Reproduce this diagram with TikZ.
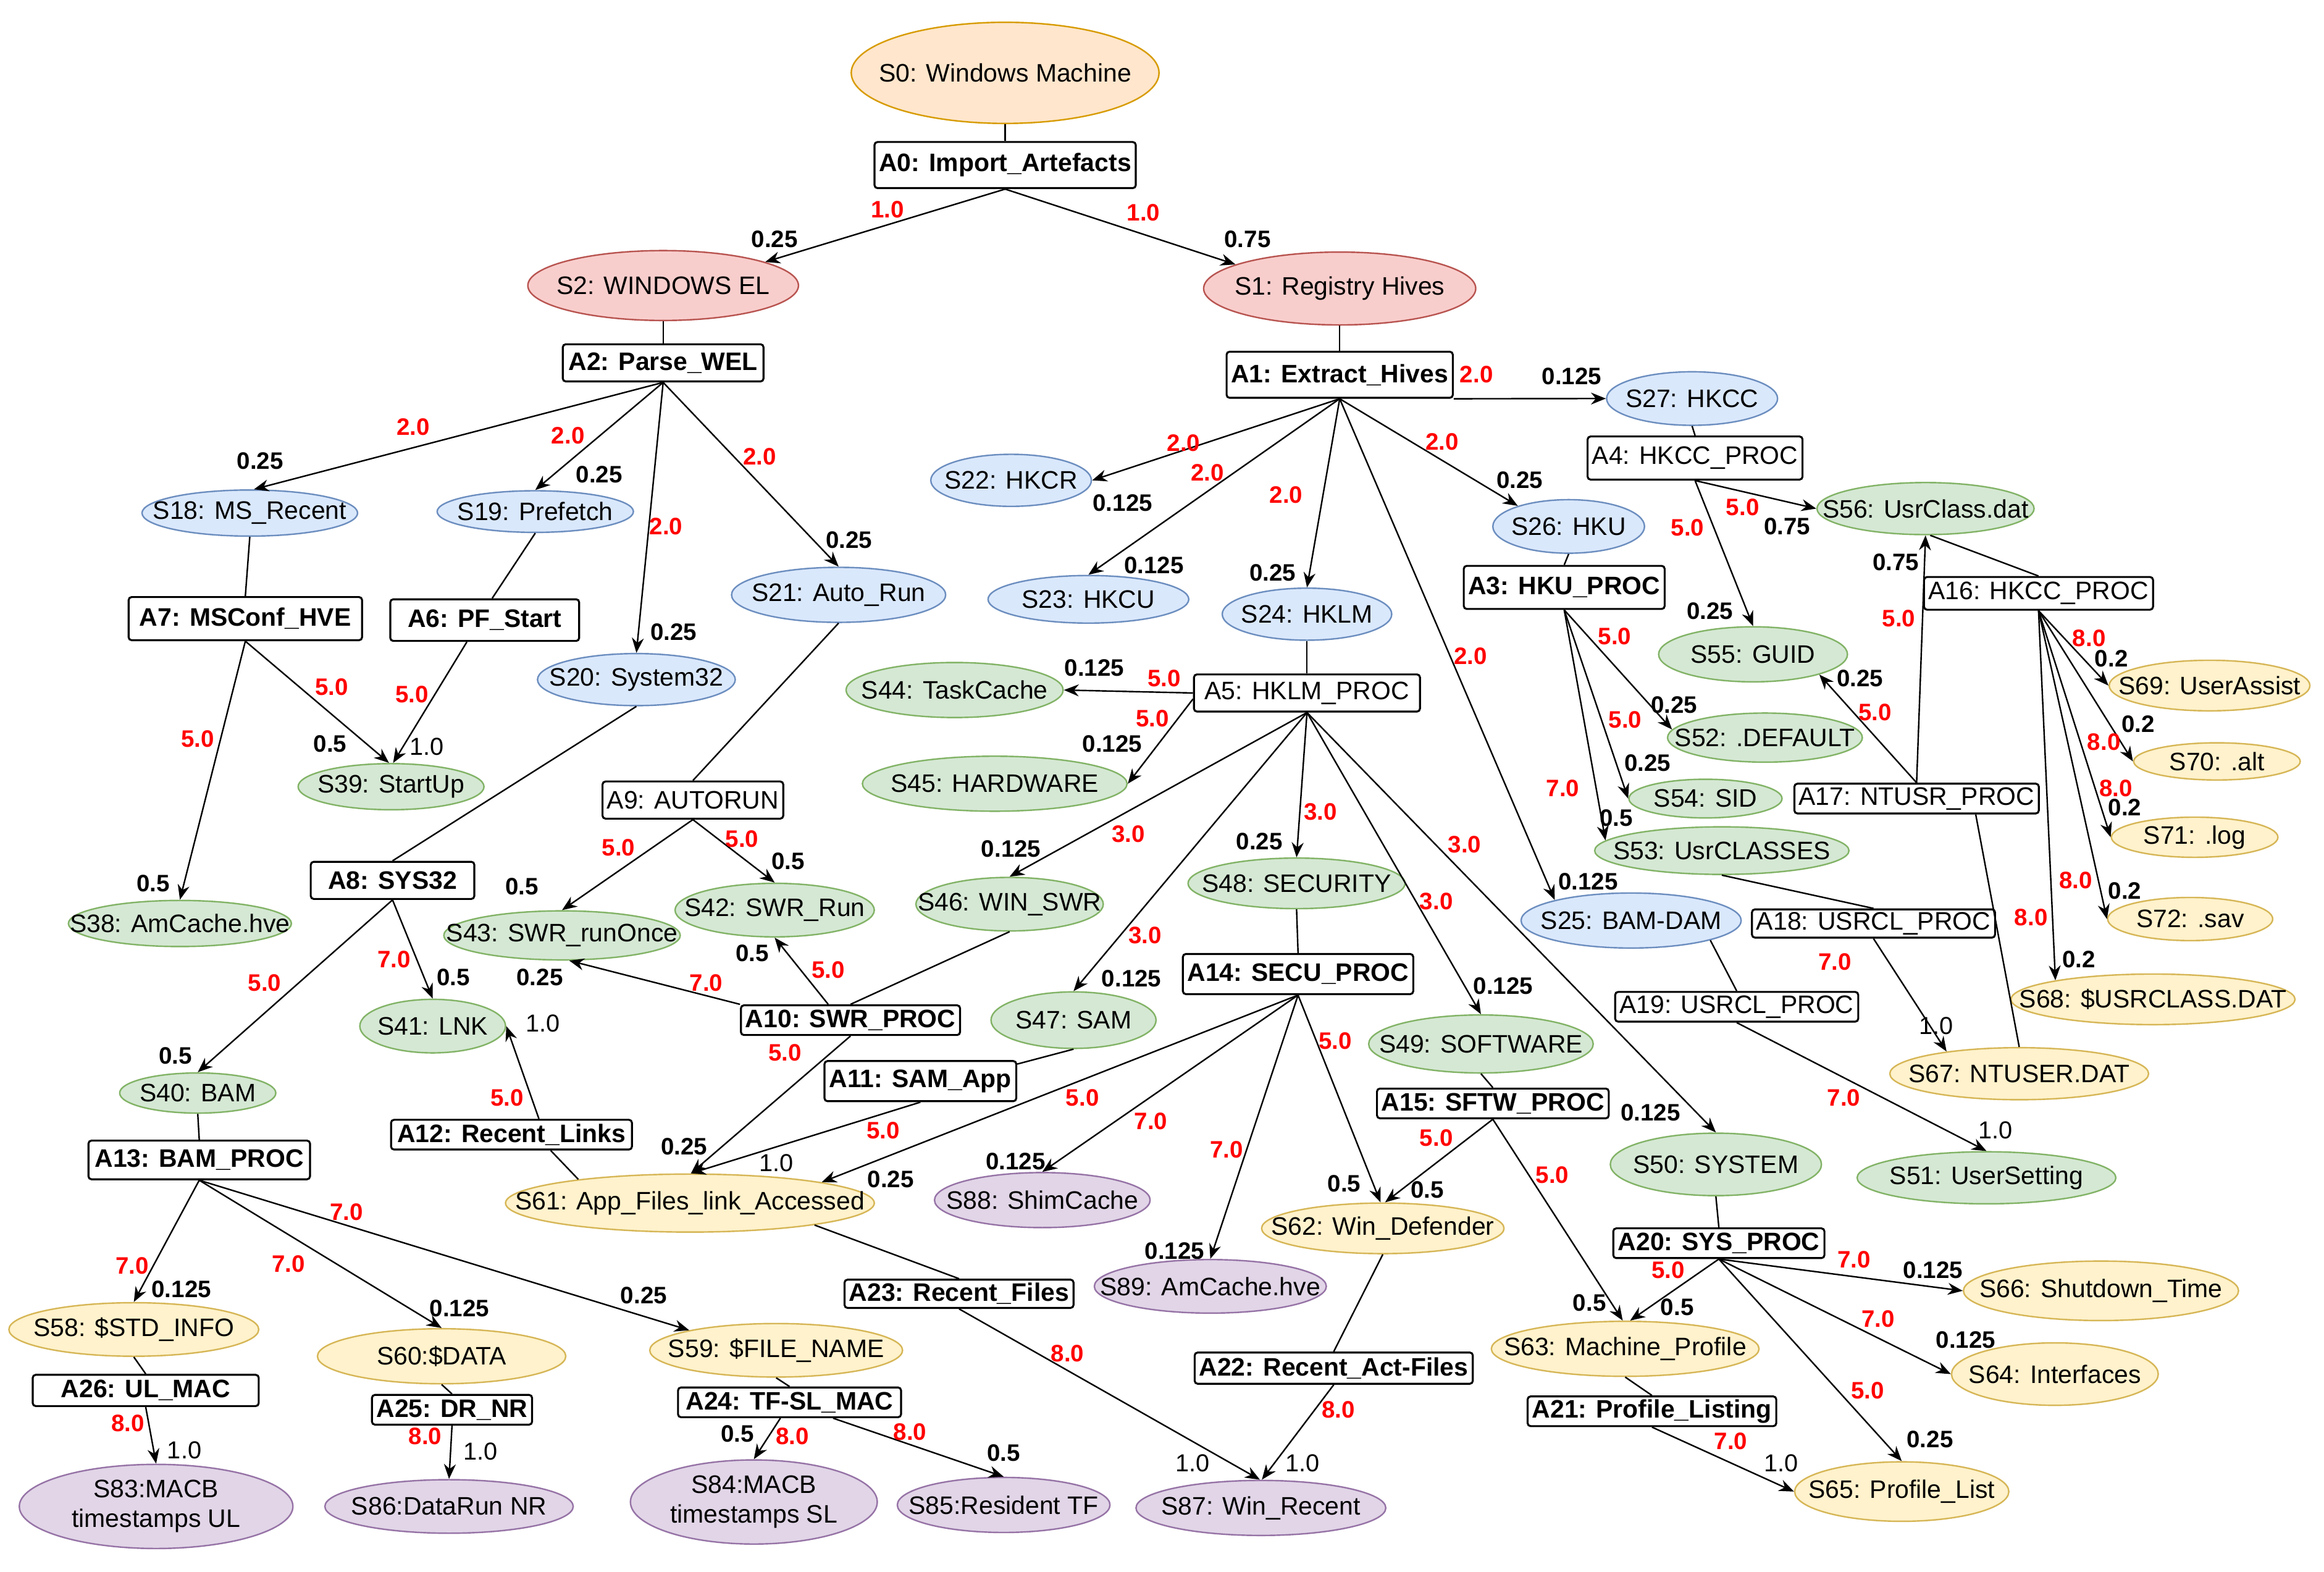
\documentclass[tikz,border=0pt]{standalone}
\usepackage{fontspec}
\setmainfont{Liberation Sans}
\usetikzlibrary{shapes.geometric,arrows.meta,calc}
\definecolor{oF}{HTML}{FFE6CC}\definecolor{oD}{HTML}{D79B00}
\definecolor{rF}{HTML}{F8CECC}\definecolor{rD}{HTML}{B85450}
\definecolor{bF}{HTML}{DAE8FC}\definecolor{bD}{HTML}{6C8EBF}
\definecolor{gF}{HTML}{D5E8D4}\definecolor{gD}{HTML}{82B366}
\definecolor{yF}{HTML}{FFF2CC}\definecolor{yD}{HTML}{D6B656}
\definecolor{pF}{HTML}{E1D5E7}\definecolor{pD}{HTML}{9673A6}
\newcommand{\ZW}[1]{\makebox[0pt]{#1}}
\newcommand{\EN}[7]{\node[st#6, minimum width=#4pt, minimum height=#5pt] (#1) at (#2,#3) {\ZW{#7}};}
\newcommand{\BX}[7]{\node[#6, minimum width=#4pt, minimum height=#5pt] (#1) at (#2,#3) {#7};}
\tikzset{
 stbase/.style={ellipse, line width=1pt, inner sep=0pt, font=\fontsize{17}{20}\selectfont},
 stO/.style={stbase, draw=oD, fill=oF},
 stR/.style={stbase, draw=rD, fill=rF},
 stB/.style={stbase, draw=bD, fill=bF},
 stG/.style={stbase, draw=gD, fill=gF},
 stY/.style={stbase, draw=yD, fill=yF},
 stP/.style={stbase, draw=pD, fill=pF},
 boxb/.style={rectangle, draw=black, fill=white, rounded corners=2pt, line width=1.3pt, inner xsep=3pt, inner ysep=0pt, font=\fontsize{17}{20}\selectfont\bfseries},
 boxn/.style={boxb, font=\fontsize{17}{20}\selectfont},
 lw/.style={text=red, inner sep=0pt, font=\fontsize{16}{18}\selectfont\bfseries},
 lp/.style={text=black, inner sep=0pt, font=\fontsize{16}{18}\selectfont\bfseries},
 lq/.style={text=black, inner sep=0pt, font=\fontsize{16.5}{18}\selectfont},
 arw/.style={draw=black, line width=1pt, -{Stealth[length=10pt,width=8pt]}},
 lnk/.style={draw=black, line width=1pt},
}
\begin{document}
\begin{tikzpicture}[x=1pt,y=-1pt]
\useasboundingbox (0,0) rectangle (1563,1057);
% ---------- ellipses ----------
\EN{S0}{676}{49}{207}{68}{O}{S0: Windows Machine}
\EN{S2}{446}{192}{182}{47}{R}{S2: WINDOWS EL}
\EN{S1}{901}{194}{183}{49}{R}{S1: Registry Hives}
\EN{S27}{1138}{268}{115}{36}{B}{S27: HKCC}
\EN{S18}{168}{345}{145}{31}{B}{S18: MS\_Recent}
\EN{S19}{360}{344}{132}{28}{B}{S19: Prefetch}
\EN{S20}{428}{457}{133}{35}{B}{S20: System32}
\EN{S21}{564}{400}{144}{37}{B}{S21: Auto\_Run}
\EN{S22}{680}{323}{108}{35}{B}{S22: HKCR}
\EN{S23}{732}{403}{135}{32}{B}{S23: HKCU}
\EN{S24}{879}{413}{114}{35}{B}{S24: HKLM}
\EN{S26}{1055}{354}{102}{36}{B}{S26: HKU}
\EN{S25}{1097}{619}{148}{37}{B}{S25: BAM-DAM}
\EN{S56}{1295}{342}{146}{35}{G}{S56: UsrClass.dat}
\EN{S55}{1179}{440}{127}{37}{G}{S55: GUID}
\EN{S52}{1187}{496}{131}{33}{G}{S52: .DEFAULT}
\EN{S54}{1147}{537}{103}{26}{G}{S54: SID}
\EN{S53}{1158}{572}{171}{32}{G}{S53: UsrCLASSES}
\EN{S39}{263}{529}{125}{31}{G}{S39: StartUp}
\EN{S38}{121}{621}{150}{31}{G}{S38: AmCache.hve}
\EN{S43}{378}{629}{159}{33}{G}{S43: SWR\_runOnce}
\EN{S42}{521}{612}{134}{36}{G}{S42: SWR\_Run}
\EN{S41}{291}{690}{98}{36}{G}{S41: LNK}
\EN{S40}{133}{735}{105}{27}{G}{S40: BAM}
\EN{S44}{642}{464}{146}{37}{G}{S44: TaskCache}
\EN{S45}{669}{527}{178}{37}{G}{S45: HARDWARE}
\EN{S46}{679}{608}{126}{36}{G}{S46: WIN\_SWR}
\EN{S47}{722}{686}{111}{38}{G}{S47: SAM}
\EN{S48}{872}{594}{146}{34}{G}{S48: SECURITY}
\EN{S49}{996}{702}{151}{39}{G}{S49: SOFTWARE}
\EN{S50}{1154}{783}{142}{42}{G}{S50: SYSTEM}
\EN{S51}{1336}{792}{174}{35}{G}{S51: UserSetting}
\EN{S69}{1486}{461}{135}{34}{Y}{S69: UserAssist}
\EN{S70}{1491}{512}{112}{25}{Y}{S70: .alt}
\EN{S71}{1476}{563}{112}{27}{Y}{S71: .log}
\EN{S72}{1473}{618}{111}{29}{Y}{S72: .sav}
\EN{S68}{1448}{672}{191}{34}{Y}{S68: \$USRCLASS.DAT}
\EN{S67}{1358}{722}{174}{35}{Y}{S67: NTUSER.DAT}
\EN{S61}{464}{809}{248}{39}{Y}{S61: App\_Files\_link\_Accessed}
\EN{S62}{930}{826}{163}{34}{Y}{S62: Win\_Defender}
\EN{S58}{90}{894}{168}{36}{Y}{S58: \$STD\_INFO}
\EN{S60}{297}{912}{167}{37}{Y}{S60:\$DATA}
\EN{S59}{522}{908}{170}{36}{Y}{S59: \$FILE\_NAME}
\EN{S63}{1093}{907}{180}{37}{Y}{S63: Machine\_Profile}
\EN{S66}{1413}{868}{185}{40}{Y}{S66: Shutdown\_Time}
\EN{S64}{1382}{924}{139}{42}{Y}{S64: Interfaces}
\EN{S65}{1279}{1003}{144}{40}{Y}{S65: Profile\_List}
\EN{S88}{701}{807}{145}{37}{P}{S88: ShimCache}
\EN{S89}{814}{865}{156}{36}{P}{S89: AmCache.hve}
\EN{S83}{105}{1013}{184}{54}{P}{\begin{tabular}{@{}c@{}}S83:MACB\\timestamps UL\end{tabular}}
\EN{S86}{302}{1013}{167}{36}{P}{S86:DataRun NR}
\EN{S84}{507}{1010}{166}{52}{P}{\begin{tabular}{@{}c@{}}S84:MACB\\timestamps SL\end{tabular}}
\EN{S85}{675}{1012}{143}{37}{P}{S85:Resident TF}
\EN{S87}{848}{1014}{168}{37}{P}{S87: Win\_Recent}
% ---------- boxes ----------
\BX{A0}{676}{111}{174}{31}{boxb}{A0: Import\_Artefacts}
\BX{A2}{446}{244}{135}{25}{boxb}{A2: Parse\_WEL}
\BX{A1}{901}{252}{151}{31}{boxb}{A1: Extract\_Hives}
\BX{A4}{1140}{308}{142}{29}{boxn}{A4: HKCC\_PROC}
\BX{A7}{165}{416}{157}{29}{boxb}{A7: MSConf\_HVE}
\BX{A6}{326}{417}{127}{28}{boxb}{A6: PF\_Start}
\BX{A3}{1052}{395}{134}{29}{boxb}{A3: HKU\_PROC}
\BX{A16}{1371}{399}{143}{22}{boxn}{A16: HKCC\_PROC}
\BX{A5}{879}{466}{152}{25}{boxn}{A5: HKLM\_PROC}
\BX{A9}{466}{538}{120}{25}{boxn}{A9: AUTORUN}
\BX{A17}{1289}{537}{151}{20}{boxn}{A17: NTUSR\_PROC}
\BX{A8}{264}{592}{110}{25}{boxb}{A8: SYS32}
\BX{A18}{1260}{621}{151}{19}{boxn}{A18: USRCL\_PROC}
\BX{A14}{873}{655}{152}{27}{boxb}{A14: SECU\_PROC}
\BX{A19}{1168}{677}{152}{20}{boxn}{A19: USRCL\_PROC}
\BX{A10}{572}{686}{143}{20}{boxb}{A10: SWR\_PROC}
\BX{A11}{619}{727}{129}{27}{boxb}{A11: SAM\_App}
\BX{A15}{1004}{742}{152}{20}{boxb}{A15: SFTW\_PROC}
\BX{A12}{344}{763}{162}{20}{boxb}{A12: Recent\_Links}
\BX{A13}{134}{780}{149}{26}{boxb}{A13: BAM\_PROC}
\BX{A20}{1156}{836}{142}{20}{boxb}{A20: SYS\_PROC}
\BX{A23}{645}{870}{152}{19}{boxb}{A23: Recent\_Files}
\BX{A22}{897}{920}{186}{21}{boxb}{A22: Recent\_Act-Files}
\BX{A26}{98}{935}{152}{21}{boxb}{A26: UL\_MAC}
\BX{A24}{531}{943}{150}{20}{boxb}{A24: TF-SL\_MAC}
\BX{A25}{304}{948}{107}{20}{boxb}{A25: DR\_NR}
\BX{A21}{1111}{949}{162}{20}{boxb}{A21: Profile\_Listing}
% ---------- plain links ----------
\draw[lnk] (S0.south) -- (A0.north);
\draw[lnk] (S2.south) -- (A2.north);
\draw[lnk] (S1.south) -- (A1.north);
\draw[lnk] (S27.south) -- (A4.north);
\draw[lnk] (S26.south) -- (A3.north);
\draw[lnk] (S24.south) -- (A5.north);
\draw[lnk] (S18.south) -- (A7.north);
\draw[lnk] (S19.south) -- ($(A6.north)+(5,0)$);
\draw[lnk] (S20.south) -- (A8.north);
\draw[lnk] (S21.south) -- (A9.north);
\draw[lnk] (S40.south) -- (A13.north);
\draw[lnk] (S58.south) -- (A26.north);
\draw[lnk] (S60.south) -- (A25.north);
\draw[lnk] (S59.south) -- (A24.north);
\draw[lnk] (S62.south) -- (A22.north);
\draw[lnk] (S63.south) -- (A21.north);
\draw[lnk] (S47.south) -- (A11.10);
\draw[lnk] (S46.south) -- (A10.north);
\draw[lnk] (S53.south) -- (A18.north);
\draw[lnk] (S25.-14) -- (A19.north);
\draw[lnk] (S50.south) -- (A20.north);
\draw[lnk] (S49.south) -- (A15.north);
\draw[lnk] (S48.south) -- (A14.north);
\draw[lnk] (S56.-80) -- (A16.north);
\draw[lnk] (A17.-15) -- (S67.north);
\draw[lnk] (S61.168) -- (A12.-22);
\draw[lnk] (S61.-10) -- (A23.north);
% ---------- arrows ----------
\draw[arw] (A0.south) -- (S2.13);
\draw[arw] (A0.south) -- (S1.167);
\draw[arw] (A1.south east) -- (S27.west);
\draw[arw] (A1.south) -- (S22.east);
\draw[arw] (A1.south) -- (S23.north);
\draw[arw] (A1.south) -- (S24.north);
\draw[arw] (A1.south) -- (S26.158);
\draw[arw] (A1.south) -- (S25.165);
\draw[arw] (A2.south) -- (S18.80);
\draw[arw] (A2.south) -- (S19.north);
\draw[arw] (A2.south) -- (S20.north);
\draw[arw] (A2.south) -- (S21.north);
\draw[arw] (A7.south) -- (S38.north);
\draw[arw] (A7.south) -- (S39.95);
\draw[arw] ($(A6.south)+(-12,0)$) -- (S39.85);
\draw[arw] (A8.south) -- (S40.north);
\draw[arw] (A8.south) -- (S41.north);
\draw[arw] (A9.south) -- (S43.north);
\draw[arw] (A9.south) -- (S42.north);
\draw[arw] (A10.north west) -- (S43.-74);
\draw[arw] ($(A10.north)+(-15,0)$) -- (S42.south);
\draw[arw] (A10.south) -- (S61.88);
\draw[arw] (A11.south) -- (S61.88);
\draw[arw] (A12.30) -- (S41.east);
\draw[arw] (A14.south) -- (S61.9);
\draw[arw] (A14.south) -- (S88.north);
\draw[arw] (A14.south) -- (S89.north);
\draw[arw] (A14.south) -- (S62.95);
\draw[arw] (A15.south) -- (S62.85);
\draw[arw] (A15.south) -- (S63.95);
\draw[arw] (A20.south) -- (S63.80);
\draw[arw] (A20.south) -- (S66.west);
\draw[arw] (A20.south) -- (S64.west);
\draw[arw] (A20.south) -- (S65.north);
\draw[arw] (A21.south) -- (S65.west);
\draw[arw] (A19.south) -- (S51.north);
\draw[arw] (A18.south) -- (S67.163);
\draw[arw] (A16.south) -- (S69.west);
\draw[arw] (A16.south) -- (S70.west);
\draw[arw] (A16.south) -- (S71.west);
\draw[arw] (A16.south) -- (S72.west);
\draw[arw] (A16.south) -- (S68.169);
\draw[arw] (A17.north) -- (S55.-17);
\draw[arw] (A17.north) -- (S56.south);
\draw[arw] (A4.south) -- (S56.west);
\draw[arw] (A4.south) -- (S55.north);
\draw[arw] (A3.south) -- (S52.175);
\draw[arw] (A3.south) -- (S54.west);
\draw[arw] (A3.south) -- (S53.175);
\draw[arw] (A5.west) -- (S44.east);
\draw[arw] (A5.183) -- (S45.east);
\draw[arw] (A5.south) -- (S46.north);
\draw[arw] (A5.south) -- (S47.north);
\draw[arw] (A5.south) -- (S48.north);
\draw[arw] (A5.south) -- (S49.north);
\draw[arw] (A5.south) -- (S50.north);
\draw[arw] (A13.south) -- (S58.north);
\draw[arw] (A13.south) -- (S60.north);
\draw[arw] (A13.south) -- (S59.167);
\draw[arw] (A26.south) -- (S83.north);
\draw[arw] (A25.south) -- (S86.north);
\draw[arw] (A24.-120) -- (S84.north);
\draw[arw] (A24.-20) -- (S85.north);
\draw[arw] (A23.south) -- (S87.92);
\draw[arw] (A22.south) -- (S87.88);
% ---------- labels ----------
\node[lw] (w01) at (597,141) {1.0};   \node[lp] (p01) at (521,161) {0.25};
\node[lw] (w02) at (769,143) {1.0};   \node[lp] (p02) at (839,161) {0.75};
\node[lw] (w03) at (993,252) {2.0};   \node[lp] (p03) at (1057,253) {0.125};
\node[lw] (w04) at (796,298) {2.0};   \node[lp] (p04) at (755,338) {0.125};
\node[lw] (w05) at (812,318) {2.0};   \node[lp] (p05) at (776,380) {0.125};
\node[lw] (w06) at (865,333) {2.0};   \node[lp] (p06) at (856,385) {0.25};
\node[lw] (w07) at (970,297) {2.0};   \node[lp] (p07) at (1022,323) {0.25};
\node[lw] (w08) at (989,441) {2.0};   \node[lp] (p08) at (1068,593) {0.125};
\node[lw] (w09) at (278,287) {2.0};   \node[lp] (p09) at (175,310) {0.25};
\node[lw] (w10) at (382,293) {2.0};   \node[lp] (p10) at (403,319) {0.25};
\node[lw] (w11) at (448,354) {2.0};   \node[lp] (p11) at (453,425) {0.25};
\node[lw] (w12) at (511,307) {2.0};   \node[lp] (p12) at (571,363) {0.25};
\node[lw] (w13) at (223,462) {5.0};   \node[lp] (p13) at (222,500) {0.5};
\node[lw] (w14) at (277,467) {5.0};   \node[lq] (p14) at (287,502) {1.0};
\node[lw] (w15) at (133,497) {5.0};   \node[lp] (p15) at (103,594) {0.5};
\node[lw] (w16) at (265,645) {7.0};   \node[lp] (p16) at (305,657) {0.5};
\node[lw] (w17) at (178,661) {5.0};   \node[lp] (p17) at (118,710) {0.5};
\node[lw] (w18) at (416,570) {5.0};   \node[lp] (p18) at (351,596) {0.5};
\node[lw] (w19) at (499,564) {5.0};   \node[lp] (p19) at (530,579) {0.5};
\node[lw] (w20) at (475,661) {7.0};   \node[lp] (p20) at (363,657) {0.25};
\node[lw] (w21) at (557,652) {5.0};   \node[lp] (p21) at (506,641) {0.5};
\node[lw] (w22) at (528,708) {5.0};   \node[lp] (p22) at (460,771) {0.25};
\node[lw] (w23) at (594,760) {5.0};   \node[lq] (p23) at (522,782) {1.0};
\node[lw] (w24) at (341,738) {5.0};   \node[lq] (p24) at (365,688) {1.0};
\node[lw] (w25) at (728,738) {5.0};   \node[lp] (p25) at (599,793) {0.25};
\node[lw] (w26) at (774,754) {7.0};   \node[lp] (p26) at (683,781) {0.125};
\node[lw] (w27) at (825,773) {7.0};   \node[lp] (p27) at (790,841) {0.125};
\node[lw] (w28) at (898,700) {5.0};   \node[lp] (p28) at (904,796) {0.5};
\node[lw] (w29) at (966,765) {5.0};   \node[lp] (p29) at (960,800) {0.5};
\node[lw] (w30) at (1044,790) {5.0};  \node[lp] (p30) at (1069,876) {0.5};
\node[lw] (w31) at (1122,854) {5.0};  \node[lp] (p31) at (1128,879) {0.5};
\node[lw] (w32) at (1247,847) {7.0};  \node[lp] (p32) at (1300,854) {0.125};
\node[lw] (w33) at (1263,887) {7.0};  \node[lp] (p33) at (1322,901) {0.125};
\node[lw] (w34) at (1256,935) {5.0};  \node[lp] (p34) at (1298,968) {0.25};
\node[lw] (w35) at (1164,969) {7.0};  \node[lq] (p35) at (1198,984) {1.0};
\node[lw] (w36) at (1240,738) {7.0};  \node[lq] (p36) at (1342,760) {1.0};
\node[lw] (w37) at (1234,647) {7.0};  \node[lq] (p37) at (1302,690) {1.0};
\node[lw] (w38) at (1405,429) {8.0};  \node[lp] (p38) at (1420,443) {0.2};
\node[lw] (w39) at (1415,499) {8.0};  \node[lp] (p39) at (1438,487) {0.2};
\node[lw] (w40) at (1423,530) {8.0};  \node[lp] (p40) at (1429,543) {0.2};
\node[lw] (w41) at (1396,592) {8.0};  \node[lp] (p41) at (1429,599) {0.2};
\node[lw] (w42) at (1366,617) {8.0};  \node[lp] (p42) at (1398,645) {0.2};
\node[lw] (w43) at (1261,479) {5.0};  \node[lp] (p43) at (1251,456) {0.25};
\node[lw] (w44) at (1277,416) {5.0};  \node[lp] (p44) at (1275,378) {0.75};
\node[lw] (w45) at (1172,341) {5.0};  \node[lp] (p45) at (1202,354) {0.75};
\node[lw] (w46) at (1135,355) {5.0};  \node[lp] (p46) at (1150,411) {0.25};
\node[lw] (w47) at (1086,428) {5.0};  \node[lp] (p47) at (1126,474) {0.25};
\node[lw] (w48) at (1093,484) {5.0};  \node[lp] (p48) at (1108,513) {0.25};
\node[lw] (w49) at (1051,530) {7.0};  \node[lp] (p49) at (1087,550) {0.5};
\node[lw] (w50) at (783,456) {5.0};   \node[lp] (p50) at (736,449) {0.125};
\node[lw] (w51) at (775,483) {5.0};   \node[lp] (p51) at (748,500) {0.125};
\node[lw] (w52) at (759,561) {3.0};   \node[lp] (p52) at (680,571) {0.125};
\node[lw] (w53) at (770,629) {3.0};   \node[lp] (p53) at (761,658) {0.125};
\node[lw] (w54) at (888,546) {3.0};   \node[lp] (p54) at (847,566) {0.25};
\node[lw] (w55) at (966,606) {3.0};   \node[lp] (p55) at (1011,663) {0.125};
\node[lw] (w56) at (985,568) {3.0};   \node[lp] (p56) at (1110,748) {0.125};
\node[lw] (w57) at (89,851) {7.0};    \node[lp] (p57) at (122,867) {0.125};
\node[lw] (w58) at (194,850) {7.0};   \node[lp] (p58) at (309,880) {0.125};
\node[lw] (w59) at (233,815) {7.0};   \node[lp] (p59) at (433,871) {0.25};
\node[lw] (w60) at (86,957) {8.0};    \node[lq] (p60) at (124,975) {1.0};
\node[lw] (w61) at (286,966) {8.0};   \node[lq] (p61) at (323,976) {1.0};
\node[lw] (w62) at (533,966) {8.0};   \node[lp] (p62) at (496,964) {0.5};
\node[lw] (w63) at (612,963) {8.0};   \node[lp] (p63) at (675,977) {0.5};
\node[lw] (w64) at (718,910) {8.0};   \node[lq] (p64) at (802,984) {1.0};
\node[lw] (w65) at (900,948) {8.0};   \node[lq] (p65) at (876,984) {1.0};
\end{tikzpicture}
\end{document}
